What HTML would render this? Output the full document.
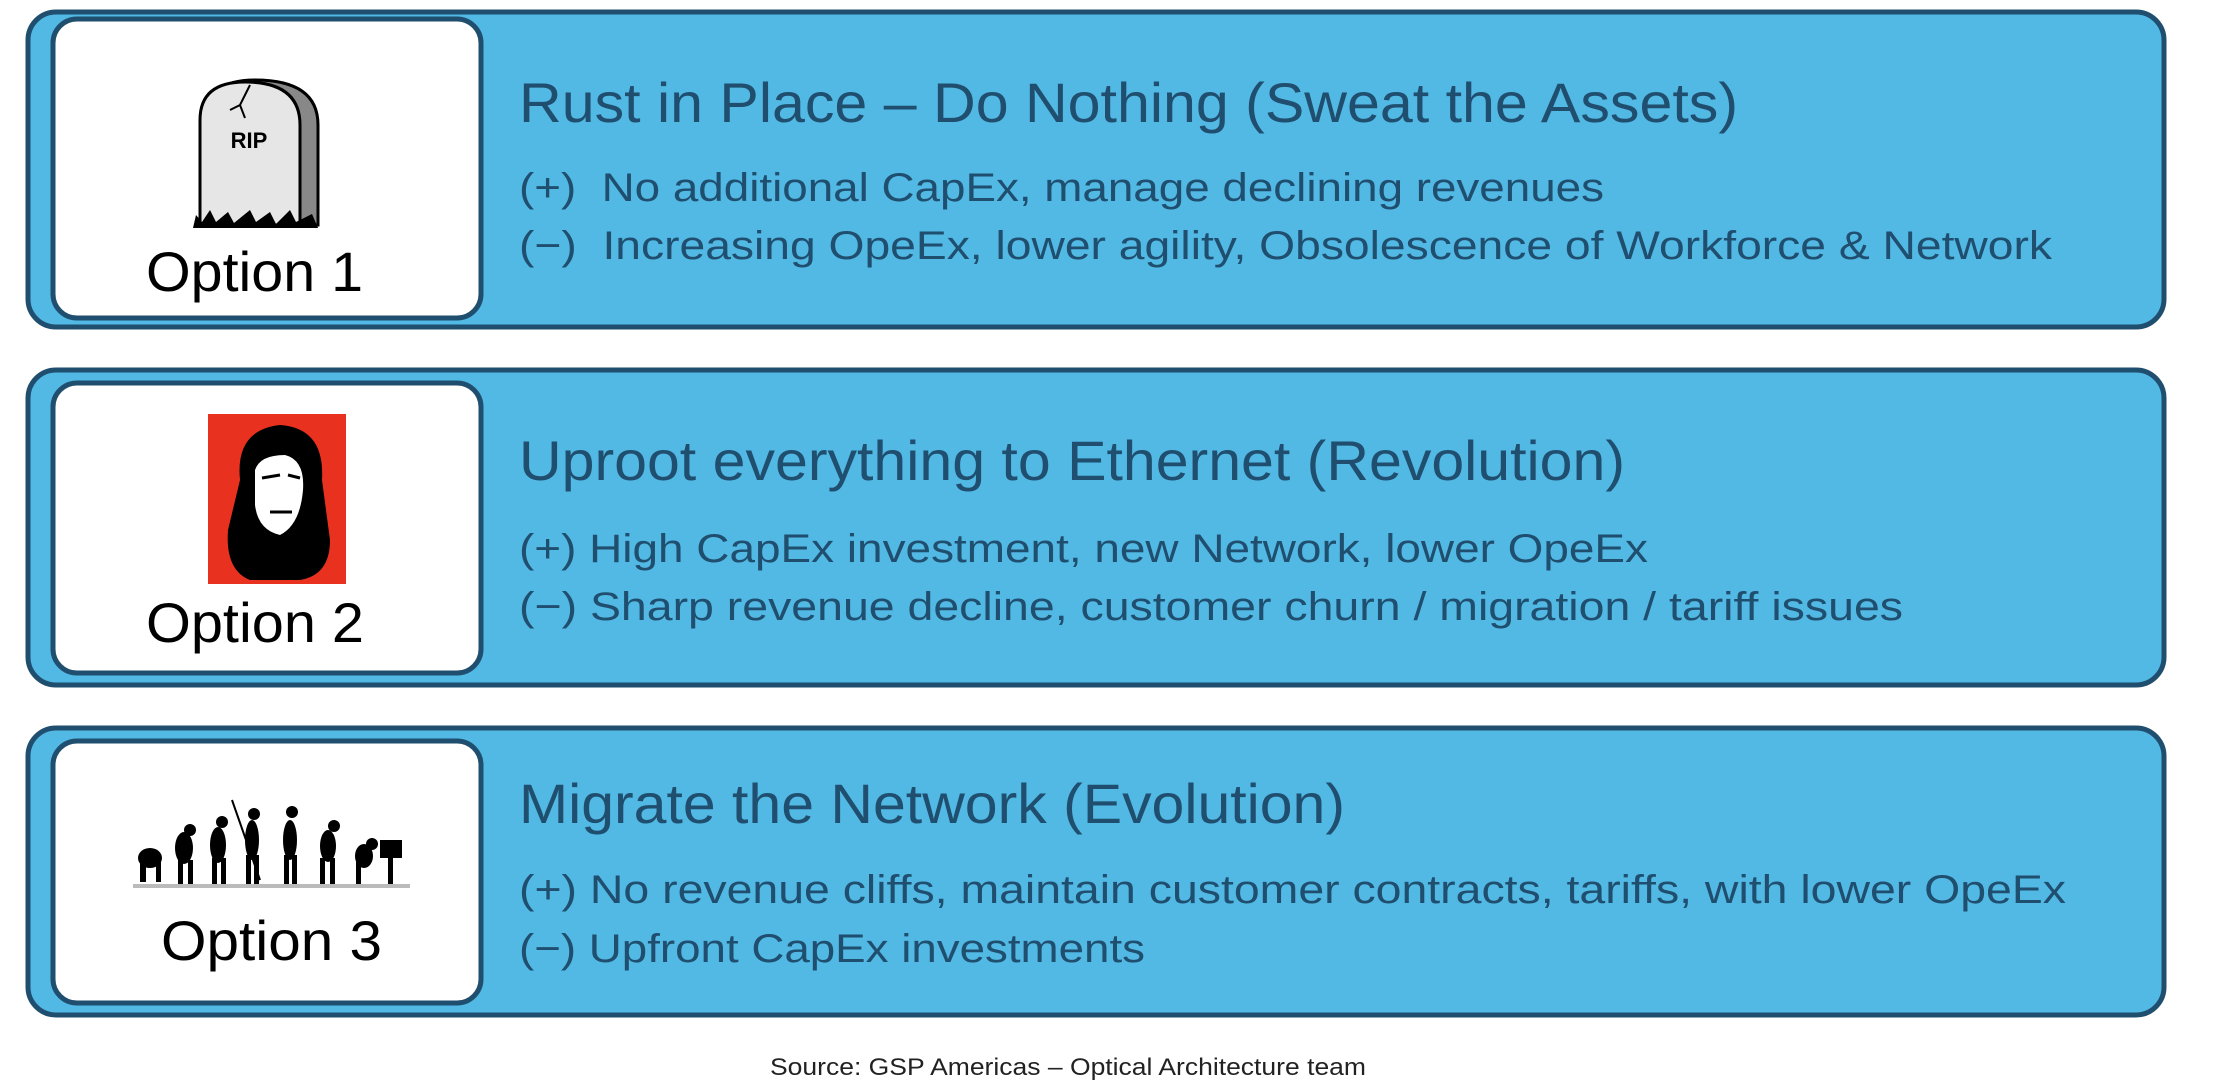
<!DOCTYPE html>
<html><head><meta charset="utf-8"><style>
html,body{margin:0;padding:0;background:#fff;}
svg{display:block;}
text{font-family:"Liberation Sans",sans-serif;}
</style></head><body>
<svg width="2216" height="1082" viewBox="0 0 2216 1082" xmlns="http://www.w3.org/2000/svg">
<g stroke="#1f4e6e" stroke-width="5">
<rect x="28" y="12" width="2136" height="315" rx="28" fill="#52b8e4"/>
<rect x="53" y="19" width="428" height="299" rx="24" fill="#fff"/>
<rect x="28" y="370" width="2136" height="315" rx="28" fill="#52b8e4"/>
<rect x="53" y="383" width="428" height="290" rx="24" fill="#fff"/>
<rect x="28" y="728" width="2136" height="287" rx="28" fill="#52b8e4"/>
<rect x="53" y="741" width="428" height="262" rx="24" fill="#fff"/>
</g>
<!-- tombstone -->
<g>
<path d="M205 225 L205 120 Q205 80 255 80 Q318 80 318 125 L318 225 Z" fill="#888" stroke="#000" stroke-width="3"/>
<path d="M200 225 L200 120 Q200 82 245 82 Q300 82 300 125 L300 225 Z" fill="#e6e6e6" stroke="#000" stroke-width="3"/>
<path d="M250 85 L240 105 L230 110 M240 105 L245 118" stroke="#000" stroke-width="2" fill="none"/>
<text x="249" y="148" font-size="22" font-weight="bold" text-anchor="middle" fill="#000">RIP</text>
<path d="M193 228 L196 215 L202 222 L210 210 L216 222 L228 212 L234 223 L250 210 L256 222 L270 212 L276 224 L290 210 L296 222 L312 214 L318 228 Z" fill="#000"/>
</g>
<!-- red portrait -->
<rect x="208" y="414" width="138" height="170" fill="#e8321f"/>
<path d="M240 480 Q235 430 280 425 Q325 428 322 480 L330 540 Q330 575 300 580 L250 580 Q225 570 228 530 Z" fill="#000"/>
<path d="M255 470 Q260 455 285 455 Q305 460 303 490 Q300 525 280 535 Q258 530 255 505 Z" fill="#fff"/>
<path d="M262 478 L280 475 M288 475 L300 478 M270 512 L292 512" stroke="#000" stroke-width="3"/>
<!-- evolution -->
<g fill="#000">
<ellipse cx="150" cy="858" rx="12" ry="10"/><rect x="140" y="860" width="6" height="22"/><rect x="156" y="860" width="5" height="22"/>
<ellipse cx="184" cy="848" rx="9" ry="16"/><rect x="178" y="860" width="5" height="24"/><rect x="188" y="860" width="5" height="24"/><circle cx="190" cy="830" r="6"/>
<ellipse cx="218" cy="845" rx="8" ry="18"/><rect x="212" y="858" width="5" height="26"/><rect x="221" y="858" width="5" height="26"/><circle cx="222" cy="822" r="6"/>
<ellipse cx="252" cy="840" rx="7" ry="20"/><rect x="246" y="855" width="5" height="29"/><rect x="254" y="855" width="5" height="29"/><circle cx="254" cy="814" r="6"/>
<ellipse cx="290" cy="840" rx="7" ry="20"/><rect x="284" y="855" width="5" height="29"/><rect x="292" y="855" width="5" height="29"/><circle cx="292" cy="812" r="6"/>
<ellipse cx="328" cy="846" rx="8" ry="16"/><rect x="320" y="858" width="5" height="26"/><rect x="330" y="858" width="5" height="26"/><circle cx="334" cy="826" r="6"/>
<ellipse cx="364" cy="856" rx="9" ry="12"/><rect x="356" y="862" width="5" height="22"/><circle cx="372" cy="844" r="6"/><rect x="380" y="840" width="22" height="18"/><rect x="388" y="858" width="5" height="26"/>
</g>
<line x1="232" y1="800" x2="260" y2="880" stroke="#000" stroke-width="2"/>
<rect x="133" y="884" width="277" height="4" fill="#bbb"/>
<g fill="#000" font-size="56" text-anchor="start">
<text x="146" y="291" textLength="217" lengthAdjust="spacingAndGlyphs">Option 1</text>
<text x="146" y="642" textLength="218" lengthAdjust="spacingAndGlyphs">Option 2</text>
<text x="161" y="960" textLength="221" lengthAdjust="spacingAndGlyphs">Option 3</text>
</g>
<g fill="#1f4e6e">
<text x="519" y="122" font-size="56" textLength="1219" lengthAdjust="spacingAndGlyphs">Rust in Place – Do Nothing (Sweat the Assets)</text>
<text x="519" y="201" font-size="40" textLength="1085" lengthAdjust="spacingAndGlyphs" xml:space="preserve">(+)  No additional CapEx, manage declining revenues</text>
<text x="519" y="259" font-size="40" textLength="1533" lengthAdjust="spacingAndGlyphs" xml:space="preserve">(−)  Increasing OpeEx, lower agility, Obsolescence of Workforce &amp; Network</text>
<text x="519" y="480" font-size="56" textLength="1106" lengthAdjust="spacingAndGlyphs">Uproot everything to Ethernet (Revolution)</text>
<text x="519" y="562" font-size="40" textLength="1129" lengthAdjust="spacingAndGlyphs">(+) High CapEx investment, new Network, lower OpeEx</text>
<text x="519" y="620" font-size="40" textLength="1384" lengthAdjust="spacingAndGlyphs">(−) Sharp revenue decline, customer churn / migration / tariff issues</text>
<text x="519" y="823" font-size="56" textLength="826" lengthAdjust="spacingAndGlyphs">Migrate the Network (Evolution)</text>
<text x="519" y="903" font-size="40" textLength="1547" lengthAdjust="spacingAndGlyphs">(+) No revenue cliffs, maintain customer contracts, tariffs, with lower OpeEx</text>
<text x="519" y="962" font-size="40" textLength="626" lengthAdjust="spacingAndGlyphs">(−) Upfront CapEx investments</text>
</g>
<text x="770" y="1075" font-size="24" fill="#222" textLength="596" lengthAdjust="spacingAndGlyphs">Source: GSP Americas – Optical Architecture team</text>
</svg>
</body></html>
